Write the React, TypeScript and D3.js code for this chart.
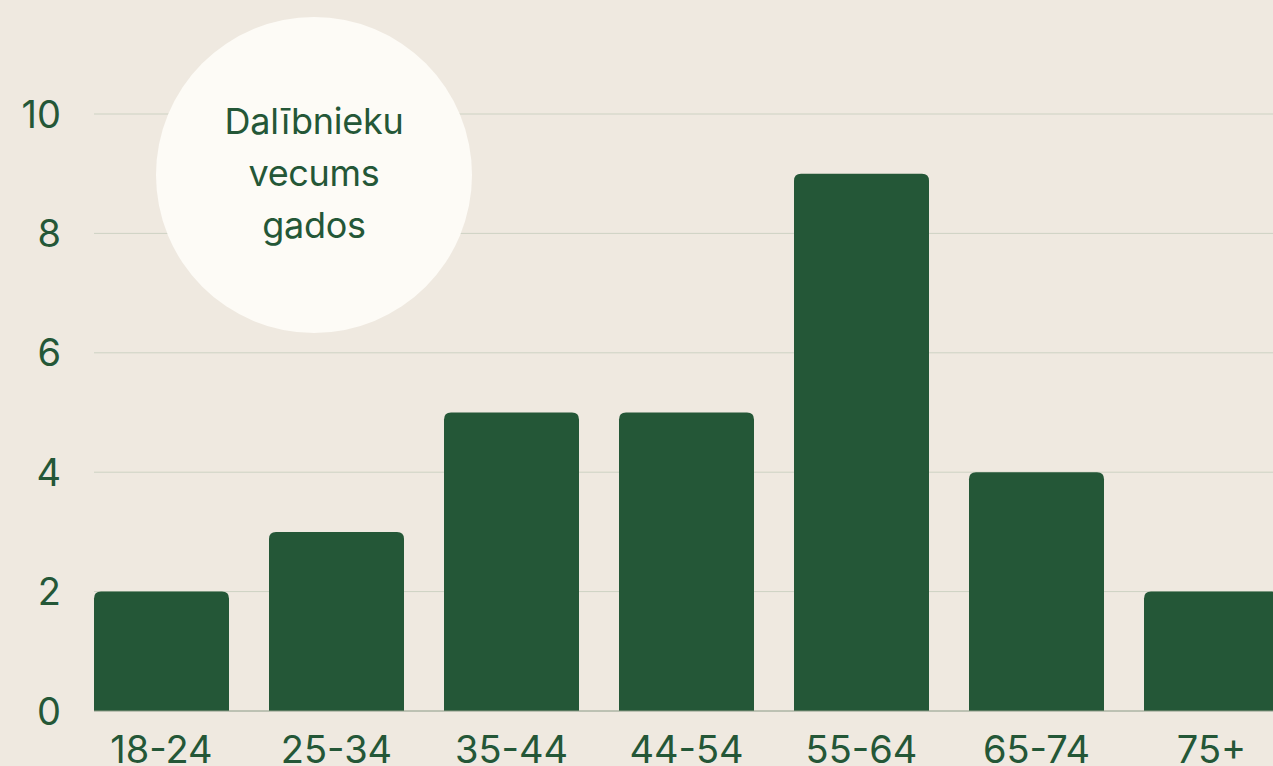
import React, { useEffect, useRef } from 'react'
import { select, scaleLinear, scaleBand } from 'd3'

const ageGroups = ['18-24', '25-34', '35-44', '44-54', '55-64', '65-74', '75+']
const counts = [2, 3, 5, 5, 9, 4, 2]
const yTicks = [0, 2, 4, 6, 8, 10]
const titleLines = ['Dalībnieku', 'vecums', 'gados']

const W = 1273
const H = 766
const green = '#245737'

function Chart() {
  const ref = useRef<SVGSVGElement>(null)

  useEffect(() => {
    const svg = select(ref.current)
    svg.selectAll('*').remove()

    const x = scaleBand()
      .domain(ageGroups)
      .range([94, 1279])
      .paddingInner(40 / 175)
      .paddingOuter(0)

    const y = scaleLinear().domain([0, 10]).range([711, 114])

    svg.append('rect').attr('width', W).attr('height', H).attr('fill', '#efe9e0')

    // gridlines
    svg.append('g')
      .selectAll('line')
      .data(yTicks.slice(1))
      .enter()
      .append('line')
      .attr('x1', 94)
      .attr('x2', W)
      .attr('y1', d => y(d))
      .attr('y2', d => y(d))
      .style('stroke', '#cdd2c3')
      .style('stroke-width', 1)

    // y labels
    svg.append('g')
      .selectAll('text')
      .data(yTicks)
      .enter()
      .append('text')
      .attr('x', 61)
      .attr('y', d => y(d))
      .attr('dy', '0.36em')
      .attr('text-anchor', 'end')
      .attr('fill', green)
      .style('font-family', 'Inter, sans-serif')
      .style('font-size', '38px')
      .text(d => d)

    // title bubble
    svg.append('circle')
      .attr('cx', 314)
      .attr('cy', 175)
      .attr('r', 158)
      .attr('fill', '#fdfbf6')

    svg.append('g')
      .selectAll('text')
      .data(titleLines)
      .enter()
      .append('text')
      .attr('x', 314)
      .attr('y', (d, i) => 134 + i * 52)
      .attr('text-anchor', 'middle')
      .attr('fill', green)
      .style('font-family', 'Inter, sans-serif')
      .style('font-size', '36px')
      .style('letter-spacing', '-0.3px')
      .text(d => d)

    // bars, rounded top only
    const r = 7
    svg.append('g')
      .selectAll('path')
      .data(counts)
      .enter()
      .append('path')
      .attr('d', (d, i) => {
        const x0 = x(ageGroups[i])!
        const x1 = x0 + x.bandwidth()
        const y0 = y(0)
        const y1 = y(d)
        return `M${x0},${y0}V${y1 + r}Q${x0},${y1} ${x0 + r},${y1}H${x1 - r}Q${x1},${y1} ${x1},${y1 + r}V${y0}Z`
      })
      .attr('fill', green)

    // baseline
    svg.append('line')
      .attr('x1', 94)
      .attr('x2', W)
      .attr('y1', y(0))
      .attr('y2', y(0))
      .style('stroke', '#8a9a86')
      .style('stroke-width', 1)

    // x labels
    svg.append('g')
      .selectAll('text')
      .data(ageGroups)
      .enter()
      .append('text')
      .attr('x', d => x(d)! + x.bandwidth() / 2)
      .attr('y', 763)
      .attr('text-anchor', 'middle')
      .attr('fill', green)
      .style('font-family', 'Inter, sans-serif')
      .style('font-size', '38px')
      .text(d => d)
  }, [])

  return <svg ref={ref} width={W} height={H} style={{ display: 'block' }}></svg>
}

export default function App() {
  return (
    <div style={{ position: 'absolute', left: 0, top: 0, width: W, height: H, overflow: 'hidden' }}>
      <Chart />
    </div>
  )
}
